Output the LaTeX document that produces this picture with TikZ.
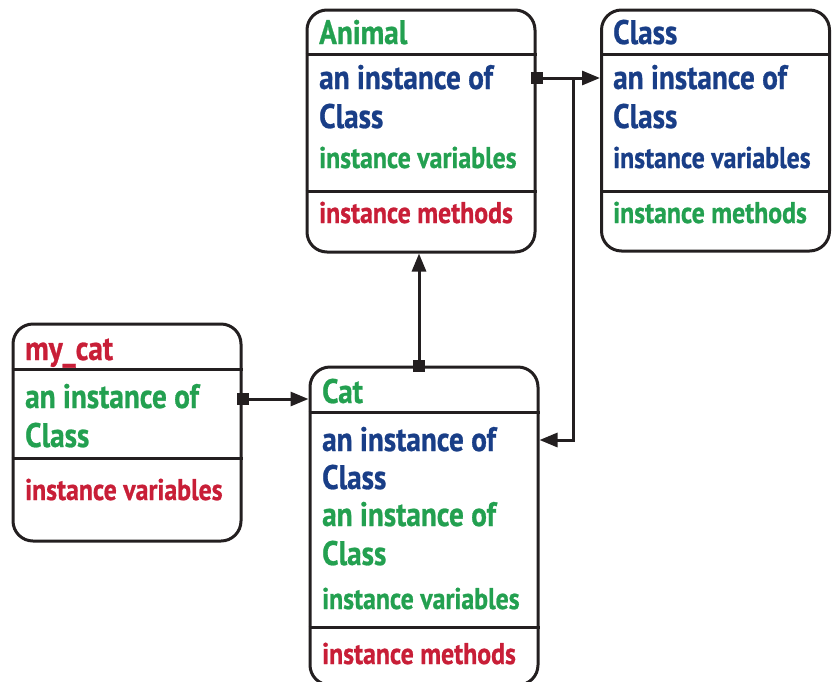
\documentclass[tikz,border=0pt]{standalone}
\usepackage{fontspec}
\setmainfont{PT Sans}[FakeStretch=0.86, BoldFeatures={FakeBold=0.8}]
\usetikzlibrary{arrows.meta}

\definecolor{ink}{RGB}{35,31,32}
\definecolor{tgreen}{RGB}{35,160,80}
\definecolor{tblue}{RGB}{25,62,135}
\definecolor{tred}{RGB}{200,30,55}

\tikzset{box/.style={draw=ink, line width=3pt, rounded corners=20pt,
         minimum width=228pt, inner sep=0pt},
         head/.style={anchor=base west, inner sep=0pt,
         font=\fontsize{34}{34}\selectfont\bfseries},
         part/.style={anchor=base west, inner sep=0pt,
         font=\fontsize{30}{30}\selectfont\bfseries},
         rule/.style={draw=ink, line width=3pt},
         branch/.style={draw=ink, line width=3pt,
         -{Triangle[length=18pt,width=14pt]}},
         link/.style={branch, {Square[length=12pt,width=12pt]}-{Triangle[length=18pt,width=14pt]},
         shorten <=-6pt}}

\begin{document}
\begin{tikzpicture}[x=1pt,y=-1pt]
      \useasboundingbox (0,0) rectangle (835,681);
      \clip (0,0) rectangle (835,681);

      % the four objects
      \node[box, minimum height=242pt] (animal) at (421,131) {};
      \node[box, minimum height=241pt] (klass) at (715.5,130.5) {};
      \node[box, minimum height=217pt] (mycat) at (127,432.5) {};
      \node[box, minimum height=318pt] (cat) at (424,526) {};

      \foreach \b/\y in {animal/54, animal/191, klass/54, klass/191,
                         mycat/369, mycat/458, cat/412, cat/627}
        \draw[rule] (\b.west |- 0,\y) -- (\b.east |- 0,\y);

      % Animal
      \node[head, tgreen] (animal-name) at (319,44) {Animal};
      \node[head, tblue] (animal-of) at (319,89) {an instance of};
      \node[head, tblue] (animal-cls) at (319,128) {Class};
      \node[part, tgreen] (animal-var) at (319,168) {instance variables};
      \node[part, tred] (animal-meth) at (319,223) {instance methods};

      % Class
      \node[head, tblue] (klass-name) at (613,44) {Class};
      \node[head, tblue] (klass-of) at (613,89) {an instance of};
      \node[head, tblue] (klass-cls) at (613,128) {Class};
      \node[part, tblue] (klass-var) at (613,168) {instance variables};
      \node[part, tgreen] (klass-meth) at (613,223) {instance methods};

      % my_cat
      \node[head, tred] (mycat-name) at (25,360) {my\_cat};
      \node[head, tgreen] (mycat-of) at (25,408) {an instance of};
      \node[head, tgreen] (mycat-cls) at (25,447) {Class};
      \node[part, tred] (mycat-var) at (25,500) {instance variables};

      % Cat
      \node[head, tgreen] (cat-name) at (322,403) {Cat};
      \node[head, tblue] (cat-of) at (322,451) {an instance of};
      \node[head, tblue] (cat-cls) at (322,489) {Class};
      \node[head, tgreen] (cat-of2) at (322,526) {an instance of};
      \node[head, tgreen] (cat-cls2) at (322,565) {Class};
      \node[part, tgreen] (cat-var) at (322,609) {instance variables};
      \node[part, tred] (cat-meth) at (322,664) {instance methods};

      % links
      \coordinate (fork) at (573,78);
      \draw[link] (animal.east |- fork) -- (klass.west |- fork);
      \draw[branch] (fork) |- (cat.east |- 0,440);
      \draw[link] (cat.north -| 419,0) -- (animal.south -| 419,0);
      \draw[link] (mycat.east |- 0,399) -- (cat.west |- 0,399);
    \end{tikzpicture}
\end{document}
